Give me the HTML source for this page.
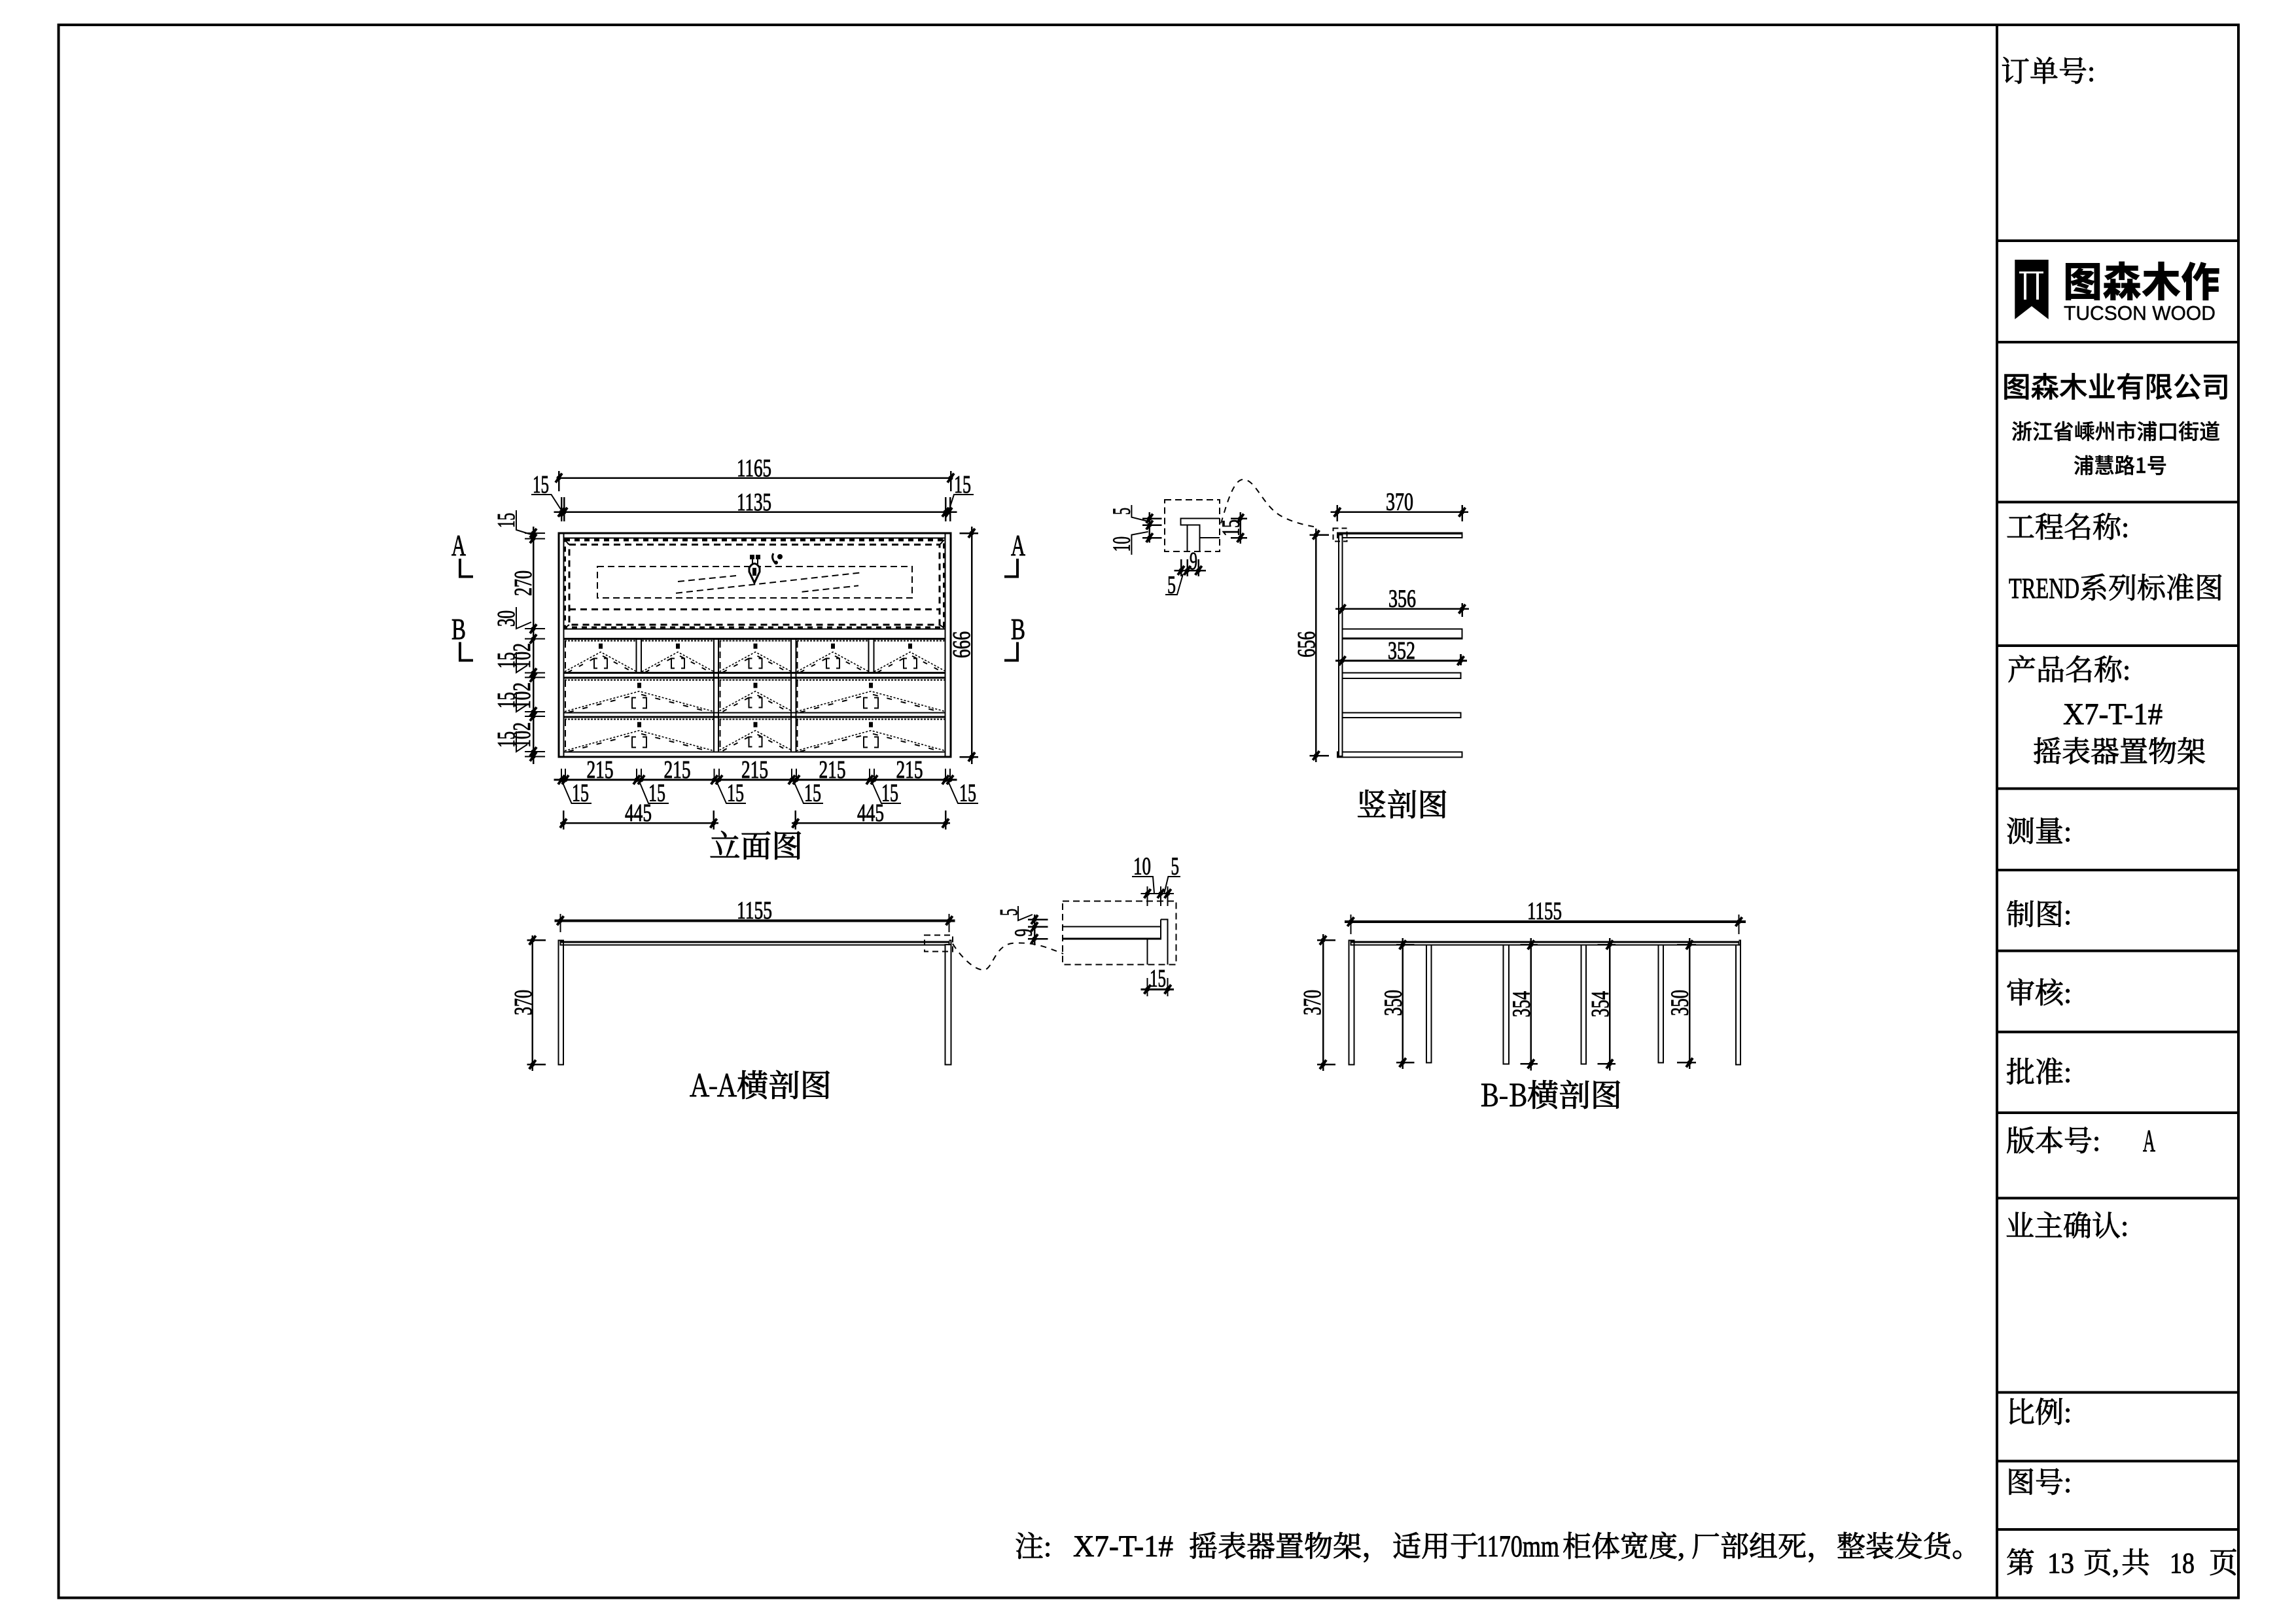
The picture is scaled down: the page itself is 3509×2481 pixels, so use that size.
<!DOCTYPE html>
<html><head><meta charset="utf-8"><style>
html,body{margin:0;padding:0;background:#fff}
svg{display:block}
.s{fill:none;stroke:#000;stroke-width:2;shape-rendering:crispEdges}
.w{fill:#fff;stroke:#000;stroke-width:2;shape-rendering:crispEdges}
.m{fill:none;stroke:#000;stroke-width:2.5;shape-rendering:crispEdges}
.h{fill:none;stroke:#000;stroke-width:3;shape-rendering:crispEdges}
.f{fill:none;stroke:#000;stroke-width:4;shape-rendering:crispEdges}
.c{fill:none;stroke:#000;stroke-width:2;stroke-dasharray:9 8}
.b{fill:none;stroke:#000;stroke-width:2;stroke-dasharray:10 6;shape-rendering:crispEdges}
text{fill:#000}
.d{font-family:"Liberation Serif","Noto Serif CJK SC",serif;font-size:38px;stroke:#000;stroke-width:.9}
.ab{font-size:46px}
.l{font-family:"Liberation Serif","Noto Serif CJK SC",serif;font-size:44px;stroke:#000;stroke-width:.9}
.z{font-family:"Noto Serif CJK SC","Liberation Serif",serif;font-size:47px;stroke:#000;stroke-width:1}
.n{font-family:"Noto Sans CJK SC","Liberation Sans",sans-serif}
</style></head><body>
<svg xmlns="http://www.w3.org/2000/svg" width="3509" height="2481" viewBox="0 0 3509 2481">
<defs>
<g id="t"><path d="M-5 7L5-7" stroke="#000" stroke-width="4" fill="none"/><circle r="3.5" fill="#000"/></g>
<g id="sm">
<path d="M-3-13h6v8h-6z" fill="#000"/>
<path d="M-55-17H55" stroke="#000" stroke-width="2" stroke-dasharray="3 2" fill="none" shape-rendering="crispEdges"/>
<path d="M-55 30L0 0L55 30" stroke="#000" stroke-width="1.6" stroke-dasharray="3 2.5" fill="none"/>
<path d="M-50 31L-3 6M3 6L50 31" stroke="#000" stroke-width="2" stroke-dasharray="7 12" fill="none"/>
<path d="M-5 10h-5v15h5M5 10h5v15h-5" class="s"/>
</g>
<g id="wd">
<path d="M-3-13h6v8h-6z" fill="#000"/>
<path d="M-114-17H114" stroke="#000" stroke-width="2" stroke-dasharray="3 2" fill="none" shape-rendering="crispEdges"/>
<path d="M-114 31L0 0L114 31" stroke="#000" stroke-width="1.6" stroke-dasharray="3 2.5" fill="none"/>
<path d="M-108 32L-3 5M3 5L108 32" stroke="#000" stroke-width="2" stroke-dasharray="8 14" fill="none"/>
<path d="M-5 10h-6v16h6M5 10h6v16h-6" class="s"/>
</g>
</defs>
<rect width="3509" height="2481" fill="#fff"/>

<!-- sheet frame -->
<rect x="89.5" y="38" width="3331.5" height="2404.5" class="f"/>
<path d="M3052 38V2442.5" class="f"/>
<path d="M3052 368H3421M3052 523H3421M3052 767.5H3421M3052 987H3421M3052 1205.7H3421M3052 1330H3421M3052 1453.7H3421M3052 1577.7H3421M3052 1701H3421M3052 1831.7H3421M3052 2128.7H3421M3052 2233.7H3421M3052 2338H3421" class="f"/>

<!-- title block text -->
<text class="l" x="3058" y="124">订单号:</text>
<path d="M3079.3 397H3130.7V488L3105 468L3079.3 488Z" fill="#000"/>
<path d="M3093 418H3097V458H3093ZM3112 418H3116V458H3112ZM3086 415H3123V418H3086Z" fill="#fff"/>
<text class="n" x="3153" y="453" font-size="62" font-weight="900" textLength="240" lengthAdjust="spacingAndGlyphs">图森木作</text>
<text x="3154" y="489" font-family="Liberation Sans,sans-serif" font-size="31" stroke="#000" stroke-width=".5" textLength="232" lengthAdjust="spacingAndGlyphs">TUCSON WOOD</text>
<text class="n" x="3060" y="607" font-size="43" font-weight="500" stroke="#000" stroke-width=".5" textLength="348" lengthAdjust="spacingAndGlyphs">图森木业有限公司</text>
<text class="n" x="3074" y="671" font-size="32" font-weight="500" stroke="#000" stroke-width=".4" textLength="319" lengthAdjust="spacingAndGlyphs">浙江省嵊州市浦口街道</text>
<text class="n" x="3169" y="723" font-size="32" font-weight="500" stroke="#000" stroke-width=".4" textLength="143" lengthAdjust="spacingAndGlyphs">浦慧路1号</text>
<text class="l" x="3066" y="821">工程名称:</text>
<text class="l" x="3070" y="914" textLength="108" lengthAdjust="spacingAndGlyphs">TREND</text>
<text class="l" x="3178" y="914">系列标准图</text>
<text class="l" x="3068" y="1039">产品名称:</text>
<text class="l" x="3153" y="1107" style="font-size:47px" textLength="152" lengthAdjust="spacingAndGlyphs">X7-T-1#</text>
<text class="l" x="3107" y="1164">摇表器置物架</text>
<text class="l" x="3066" y="1286">测量:</text>
<text class="l" x="3066" y="1413">制图:</text>
<text class="l" x="3066" y="1533">审核:</text>
<text class="l" x="3066" y="1654">批准:</text>
<text class="l" x="3066" y="1759">版本号:</text>
<text class="l" x="3275" y="1760" style="font-size:48px" textLength="19" lengthAdjust="spacingAndGlyphs">A</text>
<text class="l" x="3065" y="1889">业主确认:</text>
<text class="l" x="3066" y="2174">比例:</text>
<text class="l" x="3066" y="2281">图号:</text>
<text class="l" x="3066" y="2404">第</text>
<text class="l" x="3129" y="2404" textLength="41" lengthAdjust="spacingAndGlyphs">13</text>
<text class="l" x="3184" y="2404">页,</text>
<text class="l" x="3242" y="2404">共</text>
<text class="l" x="3316" y="2404" textLength="38" lengthAdjust="spacingAndGlyphs">18</text>
<text class="l" x="3376" y="2404">页</text>

<!-- note -->
<text class="l" x="1551" y="2379">注:</text>
<text class="l" x="1640" y="2379" style="font-size:47px" textLength="153" lengthAdjust="spacingAndGlyphs">X7-T-1#</text>
<text class="l" x="1817" y="2379">摇表器置物架，</text>
<text class="l" x="2128" y="2379">适用于</text>
<text class="l" x="2256" y="2379" style="font-size:47px" textLength="127" lengthAdjust="spacingAndGlyphs">1170mm</text>
<text class="l" x="2388" y="2379">柜体宽度,</text>
<text class="l" x="2585" y="2379">厂部组死，</text>
<text class="l" x="2807" y="2379">整装发货。</text>

<!-- ELEVATION -->
<rect x="854" y="815" width="599" height="342" class="h"/>
<path d="M861.5 815V1157M1444.5 815V1157M861 822.7H1445M861 961.3H1445M861 1089.3H1445M861 1149.3H1445" class="s"/>
<path d="M861 976.7H1445M861 1028.3H1445M861 1036H1445M861 1096H1445" class="h"/>
<path d="M972.4 977V1028M979.8 977V1028M1327.6 977V1028M1335.7 977V1028M1090.8 977V1149M1098.2 977V1149M1209.2 977V1149M1216.5 977V1149" class="s"/>
<rect x="863" y="825.3" width="580" height="134" fill="none" stroke="#000" stroke-width="4" stroke-dasharray="8 7" shape-rendering="crispEdges"/>
<rect x="870" y="832.7" width="566" height="122.3" fill="none" stroke="#000" stroke-width="3" stroke-dasharray="10 7" shape-rendering="crispEdges"/>
<path d="M870 931.7H1436" fill="none" stroke="#000" stroke-width="3" stroke-dasharray="10 7" shape-rendering="crispEdges"/>
<path d="M863 825L870 833M1443 825L1436 833M863 960L870 955M1443 960L1436 955" class="s"/>
<rect x="913" y="866" width="481" height="48" class="b"/>
<path d="M1033 906.7L1316 875.3M1036 889L1125 880M1225.6 904.7L1312 895.3" class="b" style="shape-rendering:auto"/>
<path d="M1146 848h7v7h-7zM1155 848h7v7h-7z" fill="#000"/>
<path d="M1150 855v7M1158 855v7" class="s"/>
<path d="M1145 868Q1153 855 1161 868L1161 874L1153 891L1145 874Z" fill="#fff" stroke="#000" stroke-width="3"/>
<path d="M1150 868h6v12h-6z" fill="#000"/>
<path d="M1182 846Q1178 853 1185 861" fill="none" stroke="#000" stroke-width="3"/>
<circle cx="1192" cy="851" r="4" fill="#000"/><circle cx="1186" cy="860" r="3" fill="#000"/>
<use href="#sm" x="918" y="996.7"/><use href="#sm" x="1036" y="996.7"/><use href="#sm" x="1154.5" y="996.7"/><use href="#sm" x="1273" y="996.7"/><use href="#sm" x="1391" y="996.7"/>
<use href="#wd" x="977" y="1056.7"/><use href="#sm" x="1154.5" y="1056.7"/><use href="#wd" x="1331" y="1056.7"/>
<use href="#wd" x="977" y="1116.7"/><use href="#sm" x="1154.5" y="1116.7"/><use href="#wd" x="1331" y="1116.7"/>
<path d="M864 980V1028M1100.7 980V1028M1218.6 980V1028M864 1040V1088M1100.7 1040V1088M1218.6 1040V1088M864 1100V1148M1100.7 1100V1148M1218.6 1100V1148" class="b"/>

<!-- elevation dims -->
<path d="M854 730.6H1453M854 720V751M1453 720V751M846.6 782.9H1462.5M858 760V797M862 760V797M1445 760V797M1452 760V797" class="m"/>
<use href="#t" x="854" y="730.6"/><use href="#t" x="1453" y="730.6"/>
<use href="#t" x="858" y="782.9"/><use href="#t" x="862" y="782.9"/><use href="#t" x="1445" y="782.9"/><use href="#t" x="1450" y="782.9"/>
<text class="d" x="1126" y="728" textLength="53" lengthAdjust="spacingAndGlyphs">1165</text>
<text class="d" x="1126" y="780" textLength="53" lengthAdjust="spacingAndGlyphs">1135</text>
<text class="d" x="814" y="753" textLength="25" lengthAdjust="spacingAndGlyphs">15</text>
<text class="d" x="1458" y="753" textLength="26" lengthAdjust="spacingAndGlyphs">15</text>
<path d="M812 756H842.5L858 780M1488 756H1458L1449 784" class="s" style="shape-rendering:auto"/>

<path d="M815 805V1168" class="m"/>
<path d="M802 815H833M802 823.3H833M802 961.2H833M802 976.7H833M802 1028.6H833M802 1035.5H833M802 1088H833M802 1095H833M802 1149H833M802 1156.5H833" class="s"/>
<use href="#t" x="815" y="815"/><use href="#t" x="815" y="823.3"/><use href="#t" x="815" y="961.2"/><use href="#t" x="815" y="976.7"/><use href="#t" x="815" y="1028.6"/><use href="#t" x="815" y="1035.5"/><use href="#t" x="815" y="1088"/><use href="#t" x="815" y="1095"/><use href="#t" x="815" y="1149"/><use href="#t" x="815" y="1156.5"/>
<path d="M789 780V810L815 818M789 928V961L812 951M789 997V1028L806 1017M789 1058V1088L806 1077M789 1118V1149L806 1138" class="s" style="shape-rendering:auto"/>
<text class="d" transform="translate(786 807) rotate(-90)" textLength="23" lengthAdjust="spacingAndGlyphs">15</text>
<text class="d" transform="translate(812 911) rotate(-90)" textLength="39" lengthAdjust="spacingAndGlyphs">270</text>
<text class="d" transform="translate(786 958) rotate(-90)" textLength="25" lengthAdjust="spacingAndGlyphs">30</text>
<text class="d" transform="translate(810 1022) rotate(-90)" textLength="39" lengthAdjust="spacingAndGlyphs">102</text>
<text class="d" transform="translate(786 1022) rotate(-90)" textLength="25" lengthAdjust="spacingAndGlyphs">15</text>
<text class="d" transform="translate(810 1084) rotate(-90)" textLength="41" lengthAdjust="spacingAndGlyphs">102</text>
<text class="d" transform="translate(786 1083) rotate(-90)" textLength="25" lengthAdjust="spacingAndGlyphs">15</text>
<text class="d" transform="translate(810 1143) rotate(-90)" textLength="39" lengthAdjust="spacingAndGlyphs">102</text>
<text class="d" transform="translate(786 1143) rotate(-90)" textLength="25" lengthAdjust="spacingAndGlyphs">15</text>

<path d="M1485 805V1168M1466.5 815H1495M1466.5 1157H1495" class="m"/>
<use href="#t" x="1485" y="815"/><use href="#t" x="1485" y="1157"/>
<text class="d" transform="translate(1482 1006) rotate(-90)" textLength="41" lengthAdjust="spacingAndGlyphs">666</text>

<path d="M846.6 1192H1462.5" class="h"/>
<path d="M858 1175V1192M864 1175V1192M973 1175V1192M980 1175V1192M1091.7 1175V1192M1099 1175V1192M1210 1175V1192M1217 1175V1192M1329 1175V1192M1336 1175V1192M1445 1175V1192M1452 1175V1192" class="s"/>
<use href="#t" x="858" y="1192"/><use href="#t" x="864" y="1192"/><use href="#t" x="973" y="1192"/><use href="#t" x="980" y="1192"/><use href="#t" x="1091.7" y="1192"/><use href="#t" x="1099" y="1192"/><use href="#t" x="1210" y="1192"/><use href="#t" x="1217" y="1192"/><use href="#t" x="1329" y="1192"/><use href="#t" x="1336" y="1192"/><use href="#t" x="1445" y="1192"/><use href="#t" x="1452" y="1192"/>
<text class="d" x="896.5" y="1189" textLength="41" lengthAdjust="spacingAndGlyphs">215</text>
<text class="d" x="1014.5" y="1189" textLength="41" lengthAdjust="spacingAndGlyphs">215</text>
<text class="d" x="1133" y="1189" textLength="41" lengthAdjust="spacingAndGlyphs">215</text>
<text class="d" x="1251.5" y="1189" textLength="41" lengthAdjust="spacingAndGlyphs">215</text>
<text class="d" x="1369.5" y="1189" textLength="41" lengthAdjust="spacingAndGlyphs">215</text>
<text class="d" x="874" y="1224.5" textLength="26" lengthAdjust="spacingAndGlyphs">15</text>
<text class="d" x="991" y="1224.5" textLength="26" lengthAdjust="spacingAndGlyphs">15</text>
<text class="d" x="1111" y="1224.5" textLength="26" lengthAdjust="spacingAndGlyphs">15</text>
<text class="d" x="1229" y="1224.5" textLength="26" lengthAdjust="spacingAndGlyphs">15</text>
<text class="d" x="1347" y="1224.5" textLength="26" lengthAdjust="spacingAndGlyphs">15</text>
<text class="d" x="1466" y="1224.5" textLength="26" lengthAdjust="spacingAndGlyphs">15</text>
<path d="M858 1192L873.5 1228H904M976 1192L991 1228H1022M1094 1192L1110 1228H1140M1212 1192L1228 1228H1258M1331 1192L1347 1228H1377M1448 1192L1464 1228H1495" class="s" style="shape-rendering:auto"/>
<path d="M856 1258.4H1098M1210 1258.4H1452M861 1239V1268M1090.5 1239V1268M1215.7 1239V1268M1445 1239V1268" class="m"/>
<use href="#t" x="861" y="1258.4"/><use href="#t" x="1090.5" y="1258.4"/><use href="#t" x="1215.7" y="1258.4"/><use href="#t" x="1445" y="1258.4"/>
<text class="d" x="955" y="1255" textLength="41" lengthAdjust="spacingAndGlyphs">445</text>
<text class="d" x="1310" y="1255" textLength="41" lengthAdjust="spacingAndGlyphs">445</text>
<text class="z" x="1084" y="1310" textLength="143" lengthAdjust="spacingAndGlyphs">立面图</text>

<text class="d ab" x="690" y="849" textLength="22" lengthAdjust="spacingAndGlyphs">A</text>
<text class="d ab" x="690" y="977" textLength="22" lengthAdjust="spacingAndGlyphs">B</text>
<text class="d ab" x="1545" y="849" textLength="22" lengthAdjust="spacingAndGlyphs">A</text>
<text class="d ab" x="1545" y="977" textLength="22" lengthAdjust="spacingAndGlyphs">B</text>
<path d="M703 854V881.6H723M703 981.6V1009.4H723M1555 854V881.6H1535M1555 981.6V1009.4H1535" class="f"/>

<!-- VERTICAL SECTION -->
<rect x="2043.8" y="814.7" width="190.7" height="7.3" class="w"/>
<path d="M2043.8 815.5H2234" class="h"/>
<rect x="2051.4" y="961.6" width="183.1" height="15.1" class="w"/>
<path d="M2051.4 976H2234.5" class="h"/>
<rect x="2051.4" y="1028.5" width="181" height="8.5" class="w"/>
<rect x="2051.4" y="1089.6" width="181" height="7.4" class="w"/>
<rect x="2043.8" y="1149.5" width="190.7" height="7.8" class="w"/>
<rect x="2046" y="817.6" width="5.4" height="338.2" class="w"/>
<rect x="2037.5" y="807.3" width="21" height="20.3" class="b" style="stroke-dasharray:8 5"/>
<path d="M2033.7 782.9H2244M2043.8 772V797M2234.5 772V797" class="m"/>
<use href="#t" x="2043.8" y="782.9"/><use href="#t" x="2234.5" y="782.9"/>
<text class="d" x="2118" y="779.5" textLength="42" lengthAdjust="spacingAndGlyphs">370</text>
<path d="M2041 930.9H2245M2234.5 922V943" class="m"/>
<use href="#t" x="2051.4" y="930.9"/><use href="#t" x="2234.5" y="930.9"/>
<text class="d" x="2122" y="927.5" textLength="42" lengthAdjust="spacingAndGlyphs">356</text>
<path d="M2041 1010H2242M2232.4 1000V1017" class="h"/>
<use href="#t" x="2051.4" y="1010"/><use href="#t" x="2232.4" y="1010"/>
<text class="d" x="2121" y="1007" textLength="42" lengthAdjust="spacingAndGlyphs">352</text>
<path d="M2011.4 808V1165M2001.7 817.6H2031M2001.7 1155H2031" class="m"/>
<use href="#t" x="2011.4" y="817.6"/><use href="#t" x="2011.4" y="1155"/>
<text class="d" transform="translate(2009 1005) rotate(-90)" textLength="40" lengthAdjust="spacingAndGlyphs">656</text>
<text class="z" x="2073" y="1247" textLength="140" lengthAdjust="spacingAndGlyphs">竖剖图</text>

<!-- detail 1 -->
<rect x="1780" y="764" width="84" height="78.8" class="b"/>
<path d="M1864 792.5H1804.4V802.5H1833.4V842.8M1814.5 802.5V842.8M1833.4 822H1864" class="s"/>
<path d="M1866 800C1875 770 1885 733 1900 733C1920 733 1930 775 1960 790C1980 800 2000 804 2014 806" class="c"/>
<path d="M1756.8 783V829.5M1746 792.5H1775.7M1746 802.5H1775.7M1746 822H1775.7" class="m"/>
<use href="#t" x="1756.8" y="792.5"/><use href="#t" x="1756.8" y="802.5"/><use href="#t" x="1756.8" y="822"/>
<path d="M1729.4 772V790.6L1754.7 797M1729.4 848V817.6L1754.7 812.8" class="s" style="shape-rendering:auto"/>
<text class="d" transform="translate(1726.5 787) rotate(-90)" textLength="11" lengthAdjust="spacingAndGlyphs">5</text>
<text class="d" transform="translate(1726.5 843.5) rotate(-90)" textLength="23.5" lengthAdjust="spacingAndGlyphs">10</text>
<path d="M1895.7 783V831M1881 792.5H1906M1881 822H1906" class="m"/>
<use href="#t" x="1895.7" y="792.5"/><use href="#t" x="1895.7" y="822"/>
<text class="d" transform="translate(1893.6 820) rotate(-90)" textLength="26" lengthAdjust="spacingAndGlyphs">15</text>
<path d="M1794.7 872H1843M1805 855V881M1814.5 855V881M1831.7 855V881" class="m"/>
<use href="#t" x="1805" y="872"/><use href="#t" x="1814.5" y="872"/><use href="#t" x="1831.7" y="872"/>
<text class="d" x="1818" y="870" textLength="12" lengthAdjust="spacingAndGlyphs">9</text>
<text class="d" x="1784" y="906.4" textLength="13" lengthAdjust="spacingAndGlyphs">5</text>
<path d="M1781 909H1799L1808 877.6" class="s" style="shape-rendering:auto"/>

<!-- A-A SECTION -->
<rect x="856.4" y="1439.7" width="594.3" height="4.6" class="w"/>
<path d="M856.4 1440H1450.7" class="h"/>
<rect x="853.7" y="1437.3" width="7.3" height="190" class="w" style="fill:none"/>
<rect x="1444.6" y="1444" width="8.8" height="183.3" class="w"/>
<path d="M1450.7 1437.3H1453.4V1444" class="s"/>
<rect x="1413" y="1429.3" width="43" height="25" class="b" style="stroke-dasharray:9 6"/>
<path d="M847.6 1407.3H1459.5" class="f"/>
<path d="M856.4 1397V1425M1450.7 1397V1425" class="s"/>
<use href="#t" x="856.4" y="1407.3"/><use href="#t" x="1450.7" y="1407.3"/>
<text class="d" x="1126" y="1404" textLength="54" lengthAdjust="spacingAndGlyphs">1155</text>
<path d="M813.8 1430V1637M805.7 1437.3H834M805.7 1627.3H834" class="m"/>
<use href="#t" x="813.8" y="1437.3"/><use href="#t" x="813.8" y="1627.3"/>
<text class="d" transform="translate(811.8 1552) rotate(-90)" textLength="39" lengthAdjust="spacingAndGlyphs">370</text>
<text class="z" x="1054" y="1676" textLength="72" lengthAdjust="spacingAndGlyphs">A-A</text>
<text class="z" x="1126" y="1676" textLength="145" lengthAdjust="spacingAndGlyphs">横剖图</text>

<rect x="1623.8" y="1377.3" width="173.8" height="97" class="b"/>
<path d="M1623.8 1416.7H1774M1774 1405.7H1784.7V1474.3M1774 1405.7V1435M1753.6 1435V1474.3" class="s"/>
<path d="M1623.8 1435H1775" class="h"/>
<path d="M1456 1442.7C1470 1465 1490 1483 1503.5 1482.7C1518 1482 1520 1442 1550.8 1441.7C1580 1440 1600 1448 1625 1458" class="c"/>
<path d="M1743.5 1366H1794M1753.6 1355V1385M1774 1355V1385M1784.7 1355V1385" class="s"/>
<use href="#t" x="1753.6" y="1366"/><use href="#t" x="1774" y="1366"/><use href="#t" x="1784.7" y="1366"/>
<text class="d" x="1732" y="1336.7" textLength="27" lengthAdjust="spacingAndGlyphs">10</text>
<text class="d" x="1789.5" y="1336.7" textLength="12.5" lengthAdjust="spacingAndGlyphs">5</text>
<path d="M1730 1340H1762L1764 1365M1804 1340H1785.4L1779.4 1365" class="s" style="shape-rendering:auto"/>
<path d="M1581 1398V1445M1571 1405.7H1601.5M1571 1416.7H1601.5M1571 1435H1601.5" class="m"/>
<use href="#t" x="1581" y="1405.7"/><use href="#t" x="1581" y="1416.7"/><use href="#t" x="1581" y="1435"/>
<text class="d" transform="translate(1554 1400) rotate(-90)" textLength="11" lengthAdjust="spacingAndGlyphs">5</text>
<text class="d" transform="translate(1576.5 1431.7) rotate(-90)" textLength="12" lengthAdjust="spacingAndGlyphs">9</text>
<path d="M1556 1385V1407L1578 1398" class="s" style="shape-rendering:auto"/>
<path d="M1743.5 1512.3H1794" class="h"/>
<path d="M1753.6 1495V1523M1784.7 1495V1523" class="s"/>
<use href="#t" x="1753.6" y="1512.3"/><use href="#t" x="1784.7" y="1512.3"/>
<text class="d" x="1757" y="1508" textLength="25" lengthAdjust="spacingAndGlyphs">15</text>

<!-- B-B SECTION -->
<rect x="2064.3" y="1439.3" width="593.2" height="5" class="w"/>
<path d="M2064.3 1440H2657.5" class="h"/>
<rect x="2061.5" y="1437.3" width="7.8" height="190" class="w" style="fill:none"/>
<rect x="2653" y="1444.3" width="7" height="183" class="w"/>
<path d="M2657.5 1437.3H2660V1444" class="s"/>
<rect x="2180" y="1444.3" width="7.3" height="180" class="w"/>
<rect x="2297.5" y="1444.3" width="8.3" height="182" class="w"/>
<rect x="2416.4" y="1444.3" width="7.8" height="182" class="w"/>
<rect x="2534.4" y="1444.3" width="7.8" height="180" class="w"/>
<path d="M2055 1409H2668" class="f"/>
<path d="M2064.3 1398V1428M2657.5 1398V1428" class="s"/>
<use href="#t" x="2064.3" y="1409"/><use href="#t" x="2657.5" y="1409"/>
<text class="d" x="2334" y="1405" textLength="53" lengthAdjust="spacingAndGlyphs">1155</text>
<path d="M2022 1428V1637M2013 1437.3H2041M2013 1627.3H2041" class="m"/>
<use href="#t" x="2022" y="1437.3"/><use href="#t" x="2022" y="1627.3"/>
<text class="d" transform="translate(2018 1552) rotate(-90)" textLength="39" lengthAdjust="spacingAndGlyphs">370</text>
<path d="M2143.7 1434V1634M2134 1444.3H2161.6M2134 1624.3H2161.6M2339.8 1434V1636.7M2323.7 1444.3H2350M2323.7 1626.3H2350M2460 1434V1636.7M2441.7 1444.3H2469M2441.7 1626.3H2469M2582 1434V1634M2563 1444.3H2592M2563 1624.3H2592" class="m"/>
<use href="#t" x="2143.7" y="1444.3"/><use href="#t" x="2143.7" y="1624.3"/><use href="#t" x="2339.8" y="1444.3"/><use href="#t" x="2339.8" y="1626.3"/><use href="#t" x="2460" y="1444.3"/><use href="#t" x="2460" y="1626.3"/><use href="#t" x="2582" y="1444.3"/><use href="#t" x="2582" y="1624.3"/>
<text class="d" transform="translate(2141.4 1553) rotate(-90)" textLength="40" lengthAdjust="spacingAndGlyphs">350</text>
<text class="d" transform="translate(2337.5 1555) rotate(-90)" textLength="40" lengthAdjust="spacingAndGlyphs">354</text>
<text class="d" transform="translate(2457.8 1555) rotate(-90)" textLength="40" lengthAdjust="spacingAndGlyphs">354</text>
<text class="d" transform="translate(2579.4 1553) rotate(-90)" textLength="40" lengthAdjust="spacingAndGlyphs">350</text>
<text class="z" x="2262" y="1691" textLength="72" lengthAdjust="spacingAndGlyphs">B-B</text>
<text class="z" x="2334" y="1691" textLength="145" lengthAdjust="spacingAndGlyphs">横剖图</text>
</svg>
</body></html>
